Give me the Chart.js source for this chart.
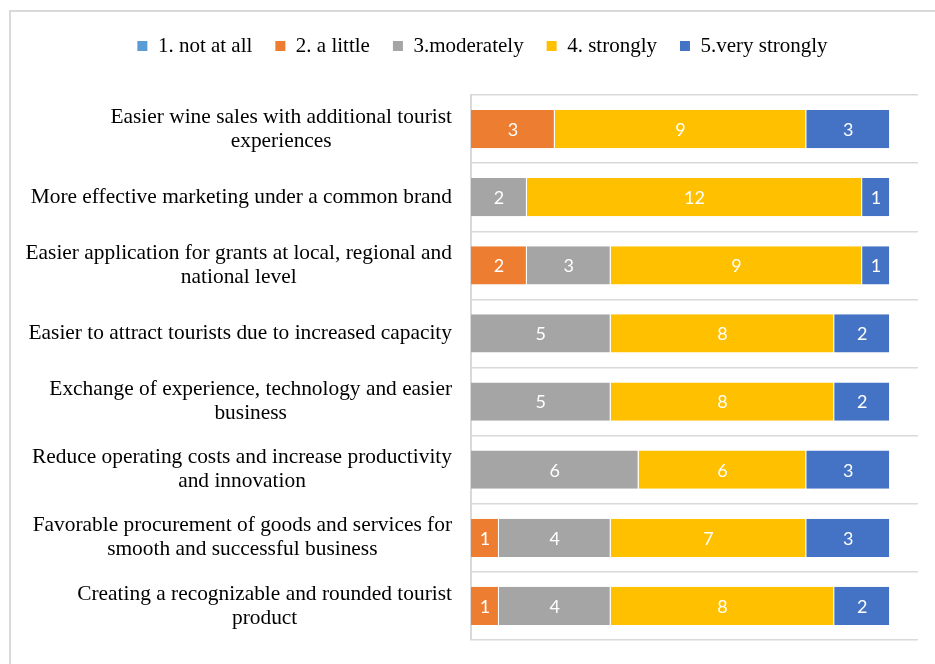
<!DOCTYPE html>
<html>
<head>
<meta charset="utf-8">
<title>Benefits of cooperation</title>
<script src="https://cdn.jsdelivr.net/npm/chart.js@4/dist/chart.umd.min.js"></script>
<style>
    html, body { margin: 0; padding: 0; background: #fff; overflow: hidden; }
    .frame {
        position: absolute; left: 9px; top: 10px;
        width: 1000px; height: 1000px;
        border: 2px solid #d9d9d9; box-sizing: border-box;
    }
    #benefitsChart { position: absolute; left: 0; top: 0; }
</style>
</head>
<body>
<div class="frame"></div>
<canvas id="benefitsChart" width="935" height="664"></canvas>
<script>
// ====== DATOS ======
const categories = [
    ['Easier wine sales with additional tourist', 'experiences'],
    ['More effective marketing under a common brand'],
    ['Easier application for grants at local, regional and', 'national level'],
    ['Easier to attract tourists due to increased capacity'],
    ['Exchange of experience, technology and easier', 'business'],
    ['Reduce operating costs and increase productivity', 'and innovation'],
    ['Favorable procurement of goods and services for', 'smooth and successful business'],
    ['Creating a recognizable and rounded tourist', 'product']
];

const seriesNames = ['1. not at all', '2. a little', '3.moderately', '4. strongly', '5.very strongly'];

const notAtAll     = [0, 0, 0, 0, 0, 0, 0, 0];
const aLittle      = [3, 0, 2, 0, 0, 0, 1, 1];
const moderately   = [0, 2, 3, 5, 5, 6, 4, 4];
const strongly     = [9, 12, 9, 8, 8, 6, 7, 8];
const veryStrongly = [3, 1, 1, 2, 2, 3, 3, 2];

const xMax = 16;

(function () {
    const seriesValues = [notAtAll, aLittle, moderately, strongly, veryStrongly];
    const seriesColors = ['#5b9bd5', '#ed7d31', '#a5a5a5', '#ffc000', '#4472c4'];

    const datasets = seriesNames.map((name, i) => ({
        label: name,
        data: seriesValues[i],
        backgroundColor: seriesColors[i],
        borderColor: 'rgba(255,255,255,0.7)',
        borderWidth: { top: 0, bottom: 0, left: 0, right: 1 },
        borderSkipped: false,
        barPercentage: 0.56,
        categoryPercentage: 1
    }));

    // ====== LEYENDA: espacio extra debajo ======
    const legendSpacer = {
        id: 'legendSpacer',
        beforeInit(chart) {
            const originalFit = chart.legend.fit;
            chart.legend.fit = function () {
                originalFit.bind(chart.legend)();
                this.height += 28.5;
            };
        }
    };

    // ====== ETIQUETAS DEL EJE Y (centradas entre lineas, alineadas a la derecha) ======
    const categoryLabels = {
        id: 'categoryLabels',
        afterDraw(chart) {
            const ctx = chart.ctx;
            const scale = chart.scales.y;
            const right = chart.chartArea.left - 19;
            ctx.save();
            ctx.font = '21.4px "Liberation Serif", "Times New Roman", serif';
            ctx.fillStyle = '#000';
            ctx.textAlign = 'center';
            ctx.textBaseline = 'middle';
            categories.forEach((lines, i) => {
                const y = scale.getPixelForValue(i);
                const maxW = Math.max(...lines.map(l => ctx.measureText(l).width));
                const cx = right - maxW / 2;
                lines.forEach((line, j) => {
                    ctx.fillText(line, cx, y + (j - (lines.length - 1) / 2) * 24);
                });
            });
            ctx.restore();
        }
    };

    // ====== VALORES DENTRO DE LAS BARRAS ======
    const barValues = {
        id: 'barValues',
        afterDatasetsDraw(chart) {
            const ctx = chart.ctx;
            ctx.save();
            ctx.font = '18px Lato, "Open Sans", sans-serif';
            ctx.fillStyle = '#fff';
            ctx.textAlign = 'center';
            ctx.textBaseline = 'middle';
            chart.data.datasets.forEach((ds, di) => {
                const meta = chart.getDatasetMeta(di);
                meta.data.forEach((bar, i) => {
                    const v = ds.data[i];
                    if (!v) return;
                    const p = bar.getCenterPoint();
                    ctx.fillText(String(v), p.x, p.y + 1);
                });
            });
            ctx.restore();
        }
    };

    new Chart(document.getElementById('benefitsChart'), {
        type: 'bar',
        data: {
            labels: categories.map(c => c.join(' ')),
            datasets: datasets
        },
        options: {
            indexAxis: 'y',
            responsive: false,
            animation: false,
            layout: {
                padding: { top: 12.5, right: 17, bottom: 24, left: 47 }
            },
            scales: {
                x: {
                    stacked: true,
                    min: 0,
                    max: xMax,
                    display: false
                },
                y: {
                    stacked: true,
                    afterFit(scale) { scale.width = 424; },
                    ticks: { display: false },
                    grid: {
                        color: '#d9d9d9',
                        lineWidth: 1.5,
                        drawTicks: false
                    },
                    border: {
                        display: true,
                        color: '#d9d9d9',
                        width: 2
                    }
                }
            },
            plugins: {
                legend: {
                    position: 'top',
                    labels: {
                        boxWidth: 10,
                        boxHeight: 10,
                        padding: 23,
                        color: '#000',
                        font: { family: '"Liberation Serif", "Times New Roman", serif', size: 21 },
                        // cuadros sin borde
                        generateLabels(chart) {
                            return Chart.defaults.plugins.legend.labels.generateLabels(chart)
                                .map(item => Object.assign(item, { lineWidth: 0 }));
                        }
                    }
                },
                tooltip: { enabled: false }
            }
        },
        plugins: [legendSpacer, categoryLabels, barValues]
    });
})();
</script>
</body>
</html>
